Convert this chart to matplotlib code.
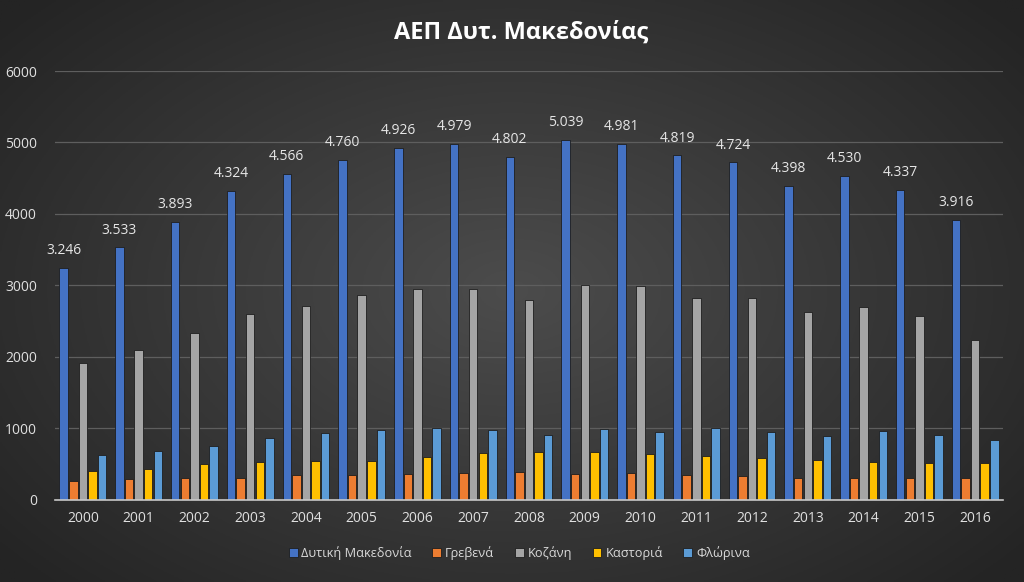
import numpy as np
import matplotlib
matplotlib.use("Agg")
import matplotlib.pyplot as plt

plt.rcParams['font.family'] = ['Open Sans', 'DejaVu Sans']

years = [str(y) for y in range(2000, 2017)]
series_names = ["Δυτική Μακεδονία", "Γρεβενά", "Κοζάνη", "Καστοριά", "Φλώρινα"]
dyt_makedonia = [3246, 3533, 3893, 4324, 4566, 4760, 4926, 4979, 4802, 5039, 4981, 4819, 4724, 4398, 4530, 4337, 3916]
grevena = [270, 294, 308, 308, 350, 350, 359, 382, 392, 368, 382, 350, 336, 303, 312, 312, 303]
kozani = [1910, 2098, 2331, 2601, 2709, 2867, 2951, 2951, 2797, 3007, 2993, 2820, 2820, 2625, 2699, 2578, 2242]
kastoria = [410, 438, 503, 536, 550, 550, 601, 657, 676, 667, 643, 620, 592, 559, 527, 513, 513]
florina = [634, 690, 751, 862, 942, 979, 1002, 979, 914, 993, 946, 1002, 956, 895, 970, 914, 839]
series = [dyt_makedonia, grevena, kozani, kastoria, florina]
colors = ["#4472C4", "#ED7D31", "#A5A5A5", "#FFC000", "#5B9BD5"]

fig = plt.figure(figsize=(10.24, 5.82), dpi=100)

# radial gradient background
bg = fig.add_axes([0, 0, 1, 1], zorder=-10)
xx, yy = np.meshgrid(np.linspace(-1, 1, 400), np.linspace(-1, 1, 240))
r = np.sqrt(xx**2 + (yy * 0.9)**2)
r = np.clip(r / 1.3, 0, 1)
c0 = np.array([0x4c, 0x4c, 0x4c]) / 255
c1 = np.array([0x24, 0x24, 0x24]) / 255
img = c0[None, None, :] * (1 - r[..., None]) + c1[None, None, :] * r[..., None]
bg.imshow(img, aspect='auto', extent=[0, 1, 0, 1])
bg.axis('off')

ax = fig.add_axes([0.0537, 0.141, 0.9258, 0.737])
ax.set_facecolor('none')

x = np.arange(len(years))
step = 0.172
width = 0.152
for i, (name, vals, col) in enumerate(zip(series_names, series, colors)):
    offs = (i - 2) * step
    ax.bar(x + offs, vals, width=width, color=col, edgecolor='#1e1e1e',
           linewidth=0.6, label=name, zorder=3)
    if i == 0:
        for xi, v in zip(x + offs, vals):
            ax.annotate(f"{v/1000:.3f}", (xi, v), xytext=(0, 7), textcoords='offset points',
                        ha='center', va='bottom', color='#e6e6e6', fontsize=10)

ax.set_xlim(-0.5, len(years) - 0.5)
ax.set_ylim(0, 6000)
ax.set_yticks(range(0, 6001, 1000))
ax.set_xticks(x)
ax.set_xticklabels(years)
ax.grid(axis='y', color='#5e5e5e', linewidth=0.9, zorder=0)
for s in ['top', 'right', 'left']:
    ax.spines[s].set_visible(False)
ax.spines['bottom'].set_color('#c8c8c8')
ax.spines['bottom'].set_linewidth(1.2)
ax.spines['bottom'].set_zorder(4)
ax.tick_params(axis='both', length=0, colors='#e0e0e0', labelsize=10)
ax.tick_params(axis='y', pad=13)
ax.tick_params(axis='x', pad=8)

fig.text(0.509, 0.943, "ΑΕΠ Δυτ. Μακεδονίας", ha='center', va='center',
         color='white', fontsize=17, fontweight='bold')

leg = fig.legend(loc='center', bbox_to_anchor=(0.507, 0.049), ncol=5, frameon=False,
                 fontsize=9.2, labelcolor='#d9d9d9', handlelength=0.7, handleheight=0.7,
                 handletextpad=0.3, columnspacing=1.6)

fig.savefig("out.png", dpi=100)
